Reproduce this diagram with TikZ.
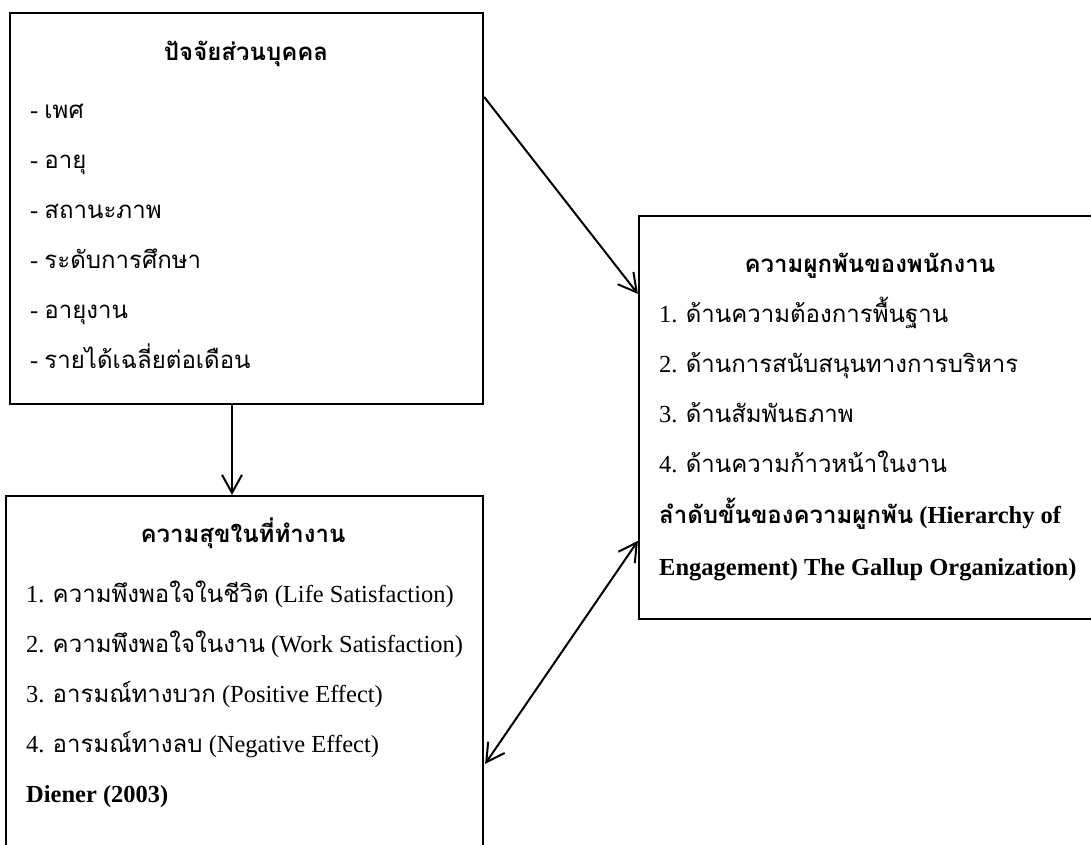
\documentclass[tikz,border=0pt]{standalone}
\usepackage{fontspec}
\usetikzlibrary{arrows.meta}
\setmainfont{Liberation Serif}
\newfontfamily\thaifont[Script=Thai,Scale=0.98]{Loma}
\newcommand{\T}[1]{{\thaifont #1}}
\begin{document}
\begin{tikzpicture}[x=1pt,y=-1pt,
  box/.style={draw, line width=2.2pt, inner sep=0pt, rectangle},
  txt/.style={anchor=base west, inner sep=0pt, font=\fontsize{24.5}{28}\selectfont},
  ttl/.style={anchor=base, inner sep=0pt, font=\fontsize{24.5}{28}\selectfont\bfseries},
  conn/.style={line width=2pt, -{Straight Barb[length=18pt,width=20pt,line width=2pt]}},
  conn2/.style={line width=2pt, {Straight Barb[length=18pt,width=20pt,line width=2pt]}-{Straight Barb[length=18pt,width=20pt,line width=2pt]}}]
\useasboundingbox (0,0) rectangle (1091,844);
\begin{scope}
\clip (0,0) rectangle (1091,844);
\node[box, minimum width=473pt, minimum height=391pt] (b1) at (246.5,208.5) {};
\node[box, minimum width=477pt, minimum height=364pt] (b2) at (244.5,678) {};
\node[box, minimum width=462pt, minimum height=403pt] (b3) at (870,417.5) {};
\end{scope}
% box 1
\node[ttl] (t1) at (246,60) {\T{ปัจจัยส่วนบุคคล}};
\node[txt] (i11) at (30,118) {- \T{เพศ}};
\node[txt] (i12) at (30,168) {- \T{อายุ}};
\node[txt] (i13) at (30,218) {- \T{สถานะภาพ}};
\node[txt] (i14) at (30,268) {- \T{ระดับการศึกษา}};
\node[txt] (i15) at (30,318) {- \T{อายุงาน}};
\node[txt] (i16) at (30,368) {- \T{รายได้เฉลี่ยต่อเดือน}};
% box 2
\node[ttl] (t2) at (243,542) {\T{ความสุขในที่ทำงาน}};
\node[txt] (i21) at (26,602) {1. \T{ความพึงพอใจในชีวิต} (Life Satisfaction)};
\node[txt] (i22) at (26,652) {2. \T{ความพึงพอใจในงาน} (Work Satisfaction)};
\node[txt] (i23) at (26,702) {3. \T{อารมณ์ทางบวก} (Positive Effect)};
\node[txt] (i24) at (26,752) {4. \T{อารมณ์ทางลบ} (Negative Effect)};
\node[txt, font=\fontsize{24.5}{28}\selectfont\bfseries] (i25) at (26,802) {Diener (2003)};
% box 3
\node[ttl] (t3) at (870,272) {\T{ความผูกพันของพนักงาน}};
\node[txt] (i31) at (659,322) {1. \T{ด้านความต้องการพื้นฐาน}};
\node[txt] (i32) at (659,372) {2. \T{ด้านการสนับสนุนทางการบริหาร}};
\node[txt] (i33) at (659,422) {3. \T{ด้านสัมพันธภาพ}};
\node[txt] (i34) at (659,472) {4. \T{ด้านความก้าวหน้าในงาน}};
\node[txt, font=\fontsize{24.5}{28}\selectfont\bfseries] (i35) at (659,523) {\T{ลำดับขั้นของความผูกพัน} (Hierarchy of};
\node[txt, font=\fontsize{24.5}{28}\selectfont\bfseries] (i36) at (659,575) {Engagement) The Gallup Organization)};
% connectors
\draw[conn] ([yshift=-85pt]b1.north east) -- ([yshift=-79pt]b3.north west);
\draw[conn] ([xshift=-14.5pt]b1.south) -- ([xshift=-12.5pt]b2.north);
\draw[conn2] ([yshift=-269pt,xshift=1pt]b2.north east) -- ([yshift=-326pt]b3.north west);
\end{tikzpicture}
\end{document}
